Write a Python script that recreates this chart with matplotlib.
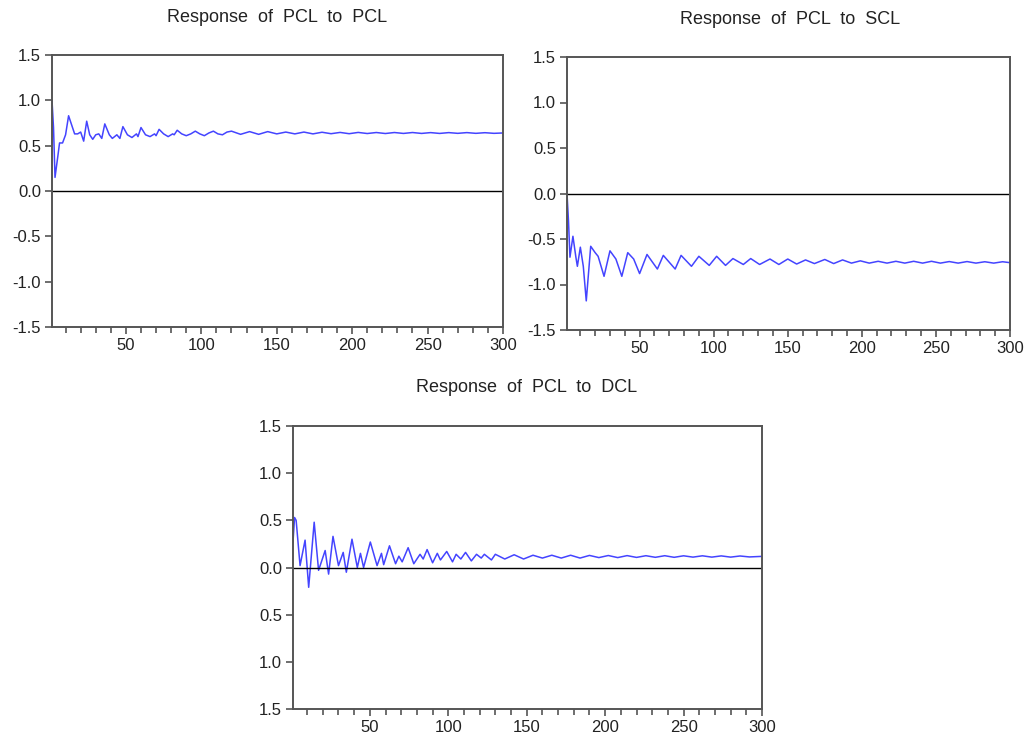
import matplotlib
matplotlib.use("Agg")
import matplotlib.pyplot as plt
from matplotlib.ticker import MultipleLocator, FixedLocator, FixedFormatter

plt.rcParams['font.family'] = ['Liberation Sans', 'DejaVu Sans']

# ---- data: turning points (period, response) ----
pcl_t = [1, 2, 3, 5, 6, 8, 10, 12, 14, 16, 18, 20, 22, 24, 26, 28, 30, 32, 34, 36,
         39, 41, 44, 46, 48, 51, 54, 57, 58, 60, 63, 66, 69, 70, 72, 75, 78, 81, 82, 84,
         87, 90, 93, 96, 99, 102, 105, 108, 111, 114, 117, 120, 126, 132, 138, 144, 150,
         156, 162, 168, 174, 180, 186, 192, 198, 204, 210, 216, 222, 228, 234, 240, 246,
         252, 258, 264, 270, 276, 282, 288, 294, 300]
pcl_v = [1.00, 0.70, 0.15, 0.40, 0.53, 0.53, 0.62, 0.83, 0.73, 0.63, 0.63, 0.65, 0.55, 0.77,
         0.62, 0.57, 0.62, 0.63, 0.58, 0.74, 0.62, 0.58, 0.62, 0.58, 0.71, 0.62, 0.59, 0.63,
         0.60, 0.70, 0.62, 0.60, 0.63, 0.61, 0.68, 0.63, 0.60, 0.63, 0.62, 0.67, 0.63, 0.61,
         0.63, 0.66, 0.63, 0.61, 0.64, 0.66, 0.63, 0.62, 0.65, 0.66, 0.625, 0.655, 0.625,
         0.655, 0.63, 0.65, 0.63, 0.65, 0.63, 0.648, 0.632, 0.646, 0.632, 0.646, 0.634,
         0.645, 0.634, 0.645, 0.635, 0.645, 0.635, 0.644, 0.635, 0.644, 0.636, 0.644,
         0.636, 0.643, 0.636, 0.640]

scl_t = [1, 2, 3, 5, 7, 8, 10, 12, 14, 17, 20, 22, 26, 30, 34, 38, 42, 46, 50, 55, 62, 66,
         74, 78, 85, 90, 97, 102, 108, 113, 120, 125, 131, 138, 144, 150, 156, 162, 168,
         175, 181, 187, 193, 199, 205, 211, 217, 223, 229, 235, 241, 247, 253, 259, 265,
         271, 277, 283, 289, 295, 300]
scl_v = [0.00, -0.30, -0.70, -0.47, -0.70, -0.80, -0.59, -0.80, -1.18, -0.58, -0.65, -0.69,
         -0.91, -0.63, -0.72, -0.91, -0.65, -0.72, -0.88, -0.67, -0.83, -0.68, -0.83, -0.68,
         -0.80, -0.69, -0.79, -0.69, -0.79, -0.715, -0.78, -0.715, -0.78, -0.72, -0.78,
         -0.72, -0.775, -0.73, -0.77, -0.725, -0.77, -0.73, -0.765, -0.74, -0.765, -0.745,
         -0.765, -0.745, -0.765, -0.745, -0.765, -0.745, -0.765, -0.748, -0.765, -0.748,
         -0.765, -0.75, -0.765, -0.75, -0.76]

dcl_t = [1, 2, 3, 5.5, 8.7, 11, 14.5, 17.3, 21.5, 23.7, 26.5, 30, 33, 35, 38.6, 42, 44, 46,
         50.3, 54.6, 57.4, 58.8, 62.5, 66.4, 68.5, 70.6, 74.4, 78, 82, 84, 86.5, 90, 93, 95,
         99, 102.7, 105, 108, 111, 114.7, 118, 121, 123, 127.5, 130, 136, 142, 148, 154,
         160, 166, 172, 178, 184, 190, 196, 202, 208, 214, 220, 226, 232, 238, 244, 250,
         256, 262, 268, 274, 280, 286, 292, 300]
dcl_v = [0.27, 0.53, 0.50, 0.02, 0.29, -0.21, 0.48, -0.03, 0.18, -0.07, 0.33, 0.02, 0.16,
         -0.05, 0.30, 0.00, 0.15, 0.00, 0.27, 0.02, 0.15, 0.03, 0.23, 0.04, 0.12, 0.06, 0.21,
         0.04, 0.14, 0.09, 0.19, 0.05, 0.15, 0.08, 0.17, 0.06, 0.14, 0.09, 0.16, 0.07, 0.14,
         0.10, 0.14, 0.08, 0.14, 0.09, 0.135, 0.09, 0.13, 0.10, 0.13, 0.10, 0.13, 0.10,
         0.128, 0.105, 0.127, 0.105, 0.126, 0.107, 0.125, 0.108, 0.125, 0.108, 0.124,
         0.11, 0.124, 0.11, 0.123, 0.11, 0.122, 0.112, 0.118]

titles = ["Response  of  PCL  to  PCL", "Response  of  PCL  to  SCL", "Response  of  PCL  to  DCL"]
y_ticks = [-1.5, -1.0, -0.5, 0.0, 0.5, 1.0, 1.5]
y_labels_signed = ["-1.5", "-1.0", "-0.5", "0.0", "0.5", "1.0", "1.5"]
y_labels_bottom = ["1.5", "1.0", "0.5", "0.0", "0.5", "1.0", "1.5"]
x_major = [50, 100, 150, 200, 250, 300]

W, H = 1026, 742
fig = plt.figure(figsize=(W / 100, H / 100), dpi=100)

def px_axes(l, r, t, b):
    return fig.add_axes([l / W, 1 - b / H, (r - l) / W, (b - t) / H])

LINE = '#4444ff'
SPINE = '#555555'

def style(ax, xs, ys, ylabels):
    ax.plot(xs, ys, color=LINE, lw=1.1, solid_joinstyle='round')
    ax.axhline(0, color='black', lw=1.0)
    ax.set_xlim(1, 300)
    ax.set_ylim(-1.5, 1.5)
    ax.yaxis.set_major_locator(FixedLocator(y_ticks))
    ax.yaxis.set_major_formatter(FixedFormatter(ylabels))
    ax.xaxis.set_major_locator(FixedLocator(x_major))
    ax.xaxis.set_minor_locator(MultipleLocator(10))
    for s in ax.spines.values():
        s.set_color(SPINE)
        s.set_linewidth(1.4)
    ax.tick_params(axis='both', which='both', direction='out', color=SPINE,
                   labelsize=12, width=1.2, colors='#222222')
    ax.tick_params(axis='both', which='major', length=5, pad=3)
    ax.tick_params(axis='x', which='minor', length=4)

ax1 = px_axes(52, 503, 55, 327)
style(ax1, pcl_t, pcl_v, y_labels_signed)
ax2 = px_axes(567, 1010, 57, 330)
style(ax2, scl_t, scl_v, y_labels_signed)
ax3 = px_axes(293, 762, 426, 709)
style(ax3, dcl_t, dcl_v, y_labels_bottom)

fig.text(277 / W, 1 - 18 / H, titles[0], ha='center', va='center', fontsize=13, color='#222222')
fig.text(790 / W, 1 - 20 / H, titles[1], ha='center', va='center', fontsize=13, color='#222222')
fig.text(527 / W, 1 - 388 / H, titles[2], ha='center', va='center', fontsize=13, color='#222222')

fig.savefig("out.png", dpi=100)
